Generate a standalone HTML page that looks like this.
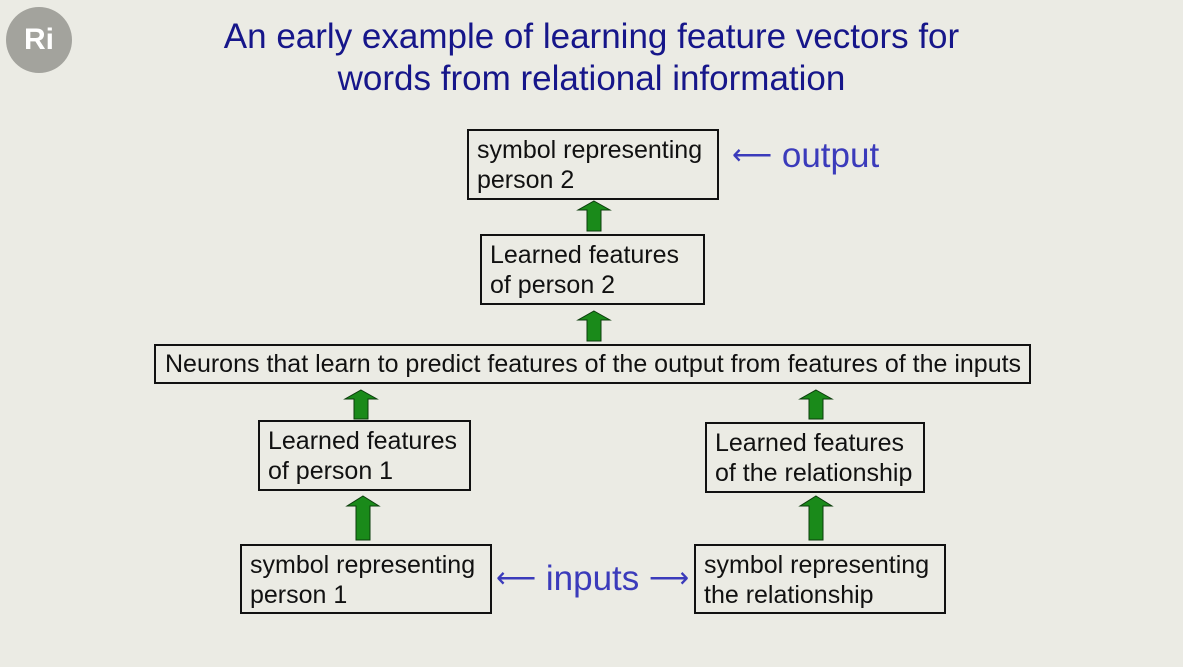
<!DOCTYPE html>
<html><head><style>
html,body{margin:0;padding:0;}
body{width:1183px;height:667px;background:#ebebe4;position:relative;overflow:hidden;font-family:"Liberation Sans",sans-serif;}
.t{position:absolute;left:0;width:1183px;text-align:center;color:#16168a;font-size:35px;line-height:42px;}
.b{position:absolute;border:2px solid #111;box-sizing:border-box;font-size:25px;line-height:30px;color:#111;padding:4px 0 0 8px;white-space:nowrap;}
.lbl{position:absolute;color:#3b3bbb;font-size:35px;}
.logo{position:absolute;left:6px;top:7px;width:66px;height:66px;border-radius:50%;background:#a3a39d;color:#fff;font-weight:bold;font-size:30px;text-align:center;line-height:66px;}
</style></head><body>
<div class="logo">Ri</div>
<div class="t" style="top:16px;">An early example of learning feature vectors for</div>
<div class="t" style="top:58px;">words from relational information</div>

<div class="b" style="left:467px;top:129px;width:252px;height:71px;">symbol representing<br>person 2</div>
<div class="b" style="left:480px;top:234px;width:225px;height:71px;">Learned features<br>of person 2</div>
<div class="b" style="left:154px;top:344px;width:877px;height:40px;padding-left:9px;padding-top:3px;">Neurons that learn to predict features of the output from features of the inputs</div>
<div class="b" style="left:258px;top:420px;width:213px;height:71px;">Learned features<br>of person 1</div>
<div class="b" style="left:705px;top:422px;width:220px;height:71px;">Learned features<br>of the relationship</div>
<div class="b" style="left:240px;top:544px;width:252px;height:70px;">symbol representing<br>person 1</div>
<div class="b" style="left:694px;top:544px;width:252px;height:70px;">symbol representing<br>the relationship</div>

<div class="lbl" style="left:732px;top:136px;"><span style="font-size:28px;position:relative;top:-3px;">⟵</span> output</div>
<div class="lbl" style="left:496px;top:559px;"><span style="font-size:28px;position:relative;top:-3px;">⟵</span> inputs <span style="font-size:28px;position:relative;top:-3px;">⟶</span></div>

<svg width="1183" height="667" style="position:absolute;left:0;top:0;">
<g fill="#1a8a1a" stroke="#0b3d0b" stroke-width="1">
<polygon points="594,201 610,210 601,210 601,231 587,231 587,210 578,210"/>
<polygon points="594,311 610,320 601,320 601,341 587,341 587,320 578,320"/>
<polygon points="361,390 377,399 368,399 368,419 354,419 354,399 345,399"/>
<polygon points="816,390 832,399 823,399 823,419 809,419 809,399 800,399"/>
<polygon points="363,496 379,506 370,506 370,540 356,540 356,506 347,506"/>
<polygon points="816,496 832,506 823,506 823,540 809,540 809,506 800,506"/>
</g>
</svg>
</body></html>
